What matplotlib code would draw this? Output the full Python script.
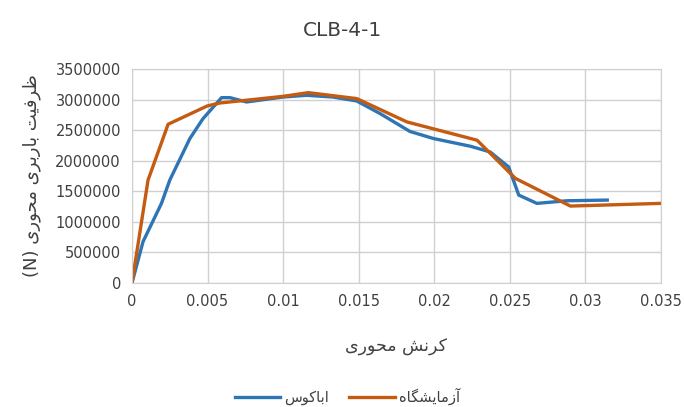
import numpy as np
import matplotlib
matplotlib.use("Agg")
import matplotlib.pyplot as plt

# abaqus curve (strain, axial force N)
abaqus_x = [0, 0.00073, 0.00195, 0.0025, 0.00383, 0.0047, 0.00593, 0.00648, 0.00758, 0.0100,
            0.01156, 0.0133, 0.01488, 0.01642, 0.0184, 0.01996, 0.0224, 0.0237, 0.02493,
            0.0256, 0.0268, 0.0288, 0.03146]
abaqus_y = [0, 675000, 1302000, 1683000, 2364000, 2690000, 3034000, 3034000, 2963000, 3044000,
            3072000, 3044000, 2979000, 2773000, 2480000, 2364000, 2238000, 2145000, 1900000,
            1438000, 1302000, 1345000, 1356000]

# lab test curve
lab_x = [0, 0.00106, 0.00239, 0.00497, 0.00581, 0.0100, 0.01167, 0.01488, 0.0182, 0.02284,
         0.02538, 0.02902, 0.035]
lab_y = [0, 1683000, 2598000, 2897000, 2946000, 3055000, 3116000, 3018000, 2636000, 2337000,
         1711000, 1258000, 1302000]

xticks = [0, 0.005, 0.01, 0.015, 0.02, 0.025, 0.03, 0.035]
xtick_labels = ['0', '0.005', '0.01', '0.015', '0.02', '0.025', '0.03', '0.035']
yticks = np.arange(0, 3500001, 500000)

# persian text, already shaped + in visual order (matplotlib has no RTL shaping)
title = 'CLB-4-1'
xlabel = '\uFBFC\uFEAD\uFEEE\uFEA4\uFEE3 \uFEB6\uFEE7\uFEAE\uFB90'  # کرنش محوری
ylabel = ('(N) \uFBFC\uFEAD\uFEEE\uFEA4\uFEE3 \uFBFC\uFEAE\uFE91\uFEAD\uFE8E\uFE91 '
          '\uFE96\uFBFF\uFED3\uFEAE\uFEC7')  # ظرفیت باربری محوری (N)
name_abaqus = '\uFEB1\uFEEE\uFB90\uFE8E\uFE91\uFE8D'  # اباکوس
name_lab = '\uFEE9\uFE8E\uFB95\uFEB8\uFBFE\uFE8E\uFEE3\uFEAF\uFE81'  # آزمایشگاه

plt.rcParams['font.family'] = ['DejaVu Sans']
txt = '#404040'

fig = plt.figure(figsize=(6.84, 4.07), dpi=100)
ax = fig.add_axes([0.193, 0.305, 0.773, 0.525])

ax.plot(abaqus_x, abaqus_y, color='#2E75B6', lw=2.4, label=name_abaqus, solid_joinstyle='round')
ax.plot(lab_x, lab_y, color='#C55A11', lw=2.4, label=name_lab, solid_joinstyle='round')

ax.set_xlim(0, 0.035)
ax.set_ylim(0, 3500000)
ax.set_xticks(xticks)
ax.set_xticklabels(xtick_labels)
ax.set_yticks(yticks)
ax.set_yticklabels([str(v) for v in yticks])
ax.tick_params(length=0, labelsize=10.5, colors=txt, pad=8)
ax.grid(True, color='#D0D0D0', lw=1)
ax.set_axisbelow(True)
for s in ax.spines.values():
    s.set_color('#D0D0D0')

fig.text(0.5, 0.925, title, ha='center', va='center', fontsize=14.5, color=txt)
ax.set_xlabel(xlabel, fontsize=12.5, color=txt, labelpad=21)
ax.set_ylabel(ylabel, fontsize=13, color=txt, labelpad=10)

fig.legend(loc='center', bbox_to_anchor=(0.508, 0.026), ncol=2, frameon=False,
           fontsize=10.5, handlelength=3.1, handletextpad=0.3, columnspacing=1.4,
           labelcolor=txt)

fig.savefig('out.png', dpi=100)
